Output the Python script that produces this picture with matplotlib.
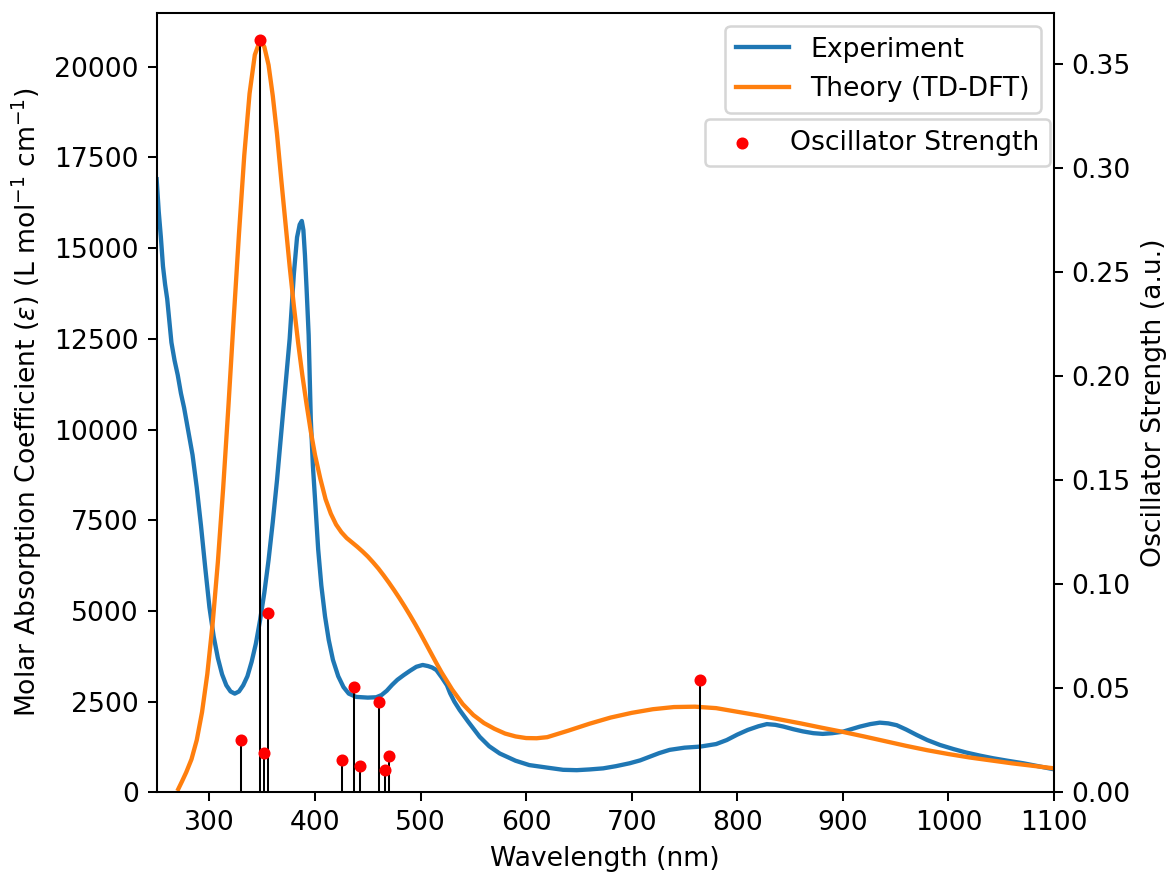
import matplotlib
matplotlib.use("Agg")
import matplotlib.pyplot as plt

plt.rcParams["font.size"] = 10.5

# Measured UV-Vis-NIR spectrum (wavelength in nm, epsilon in L mol^-1 cm^-1)
exp_wavelength = [250, 252, 254, 256, 258, 260, 262, 264, 267, 270,
                  273, 276, 280, 284, 288, 292, 296, 300, 304, 308,
                  312, 316, 320, 324, 328, 332, 336, 340, 344, 348,
                  352, 356, 360, 364, 368, 372, 376, 380, 383, 385.5,
                  387.5, 389, 390.5, 392, 394, 396, 398, 400, 403, 406,
                  409.5, 413, 417, 422, 427, 432, 439, 450, 458, 463,
                  468, 473, 478, 484, 490, 496, 502, 507, 511, 515,
                  520, 525, 528, 532, 537, 545, 556, 565, 575, 590,
                  603, 620, 635, 648, 660, 673, 685, 698, 708, 717,
                  726, 736, 750, 765, 780, 790, 800, 810, 820, 828,
                  836, 844, 853, 862, 872, 881, 890, 900, 908, 916,
                  926, 935, 943, 951, 960, 970, 980, 992, 1005, 1017,
                  1030, 1042, 1056, 1071, 1085, 1100, 1105]
exp_epsilon = [16900, 16000, 15300, 14500, 14000, 13600, 13000, 12400, 11900, 11500,
               11000, 10600, 9950, 9300, 8400, 7350, 6200, 5100, 4300, 3700,
               3250, 2950, 2780, 2720, 2780, 2950, 3200, 3600, 4100, 4750,
               5500, 6400, 7450, 8600, 9900, 11200, 12500, 14300, 15300, 15650,
               15750, 15500, 14800, 13900, 12600, 10300, 9000, 8100, 6700, 5700,
               4850, 4200, 3650, 3200, 2900, 2720, 2630, 2610, 2620, 2680,
               2800, 2960, 3100, 3230, 3350, 3460, 3510, 3480, 3440, 3370,
               3170, 2950, 2730, 2500, 2270, 1950, 1530, 1270, 1070, 870,
               750, 680, 620, 610, 630, 660, 720, 800, 880, 980,
               1080, 1170, 1230, 1260, 1330, 1440, 1590, 1720, 1820, 1880,
               1860, 1810, 1740, 1680, 1630, 1610, 1630, 1670, 1740, 1810,
               1880, 1920, 1900, 1850, 1730, 1580, 1440, 1305, 1190, 1095,
               1010, 940, 870, 800, 720, 634, 610]

# Broadened TD-DFT spectrum
th_wavelength = [270.5, 274, 278, 283, 288, 293, 298, 303, 308, 313,
                 318, 323, 328, 333, 338, 343, 348, 352, 356, 360,
                 364, 368, 372, 376, 380, 384, 388, 392, 396, 400,
                 405, 410, 415, 420, 425, 430, 435, 440, 445, 450,
                 455, 460, 465, 470, 475, 480, 485, 490, 495, 500,
                 505, 510, 515, 520, 530, 540, 550, 560, 570, 580,
                 590, 600, 610, 620, 640, 660, 680, 700, 720, 740,
                 760, 780, 800, 820, 840, 860, 880, 900, 920, 940,
                 960, 980, 1000, 1020, 1040, 1060, 1080, 1100]
th_epsilon = [90, 300, 550, 910, 1440, 2210, 3260, 4640, 6350, 8380,
              10650, 13060, 15400, 17560, 19260, 20330, 20730, 20550, 20050, 19200,
              18150, 16900, 15700, 14500, 13400, 12400, 11500, 10700, 9950, 9300,
              8650, 8080, 7680, 7380, 7170, 7010, 6890, 6770, 6640, 6500,
              6340, 6170, 5980, 5780, 5570, 5350, 5120, 4880, 4630, 4370,
              4100, 3830, 3560, 3300, 2830, 2430, 2130, 1910, 1750, 1620,
              1540, 1495, 1490, 1520, 1700, 1890, 2060, 2190, 2290, 2350,
              2360, 2320, 2220, 2120, 2010, 1900, 1780, 1665, 1540, 1410,
              1280, 1160, 1055, 960, 880, 800, 730, 660]

# Calculated excitations: wavelength (nm) and oscillator strength
stick_wavelength = [329.6, 347.6, 351.6, 355.4, 425.5, 436.6, 442.9, 460.6, 466.6, 470.3, 764.6]
stick_strength = [0.0251, 0.3617, 0.0188, 0.0863, 0.0157, 0.0505, 0.0128, 0.0433, 0.0107, 0.0175, 0.0540]

dpi = 182.66
fig, ax = plt.subplots(figsize=(1169 / dpi, 872 / dpi), dpi=dpi)
fig.subplots_adjust(left=0.1340, right=0.9016, bottom=0.0914, top=0.9854)

ax.plot(exp_wavelength, exp_epsilon, color="#1f77b4", lw=1.7, label="Experiment")
ax.plot(th_wavelength, th_epsilon, color="#ff7f0e", lw=1.7, label="Theory (TD-DFT)")
ax.set_xlim(250, 1100)
ax.set_ylim(0, 21490)
ax.set_xlabel("Wavelength (nm)")
ax.set_ylabel(r"Molar Absorption Coefficient ($\varepsilon$) (L mol$^{-1}$ cm$^{-1}$)")
ax.legend(loc="upper right")

ax2 = ax.twinx()
ax2.vlines(stick_wavelength, 0, stick_strength, color="black", lw=0.8)
ax2.scatter(stick_wavelength, stick_strength, color="red", s=14, zorder=3,
            label="Oscillator Strength")
ax2.set_ylim(0, 0.3748)
ax2.set_ylabel("Oscillator Strength (a.u.)")
ax2.legend(loc="upper right", bbox_to_anchor=(0.9955, 0.8636), borderaxespad=0)

fig.savefig("out.png", dpi=dpi)
